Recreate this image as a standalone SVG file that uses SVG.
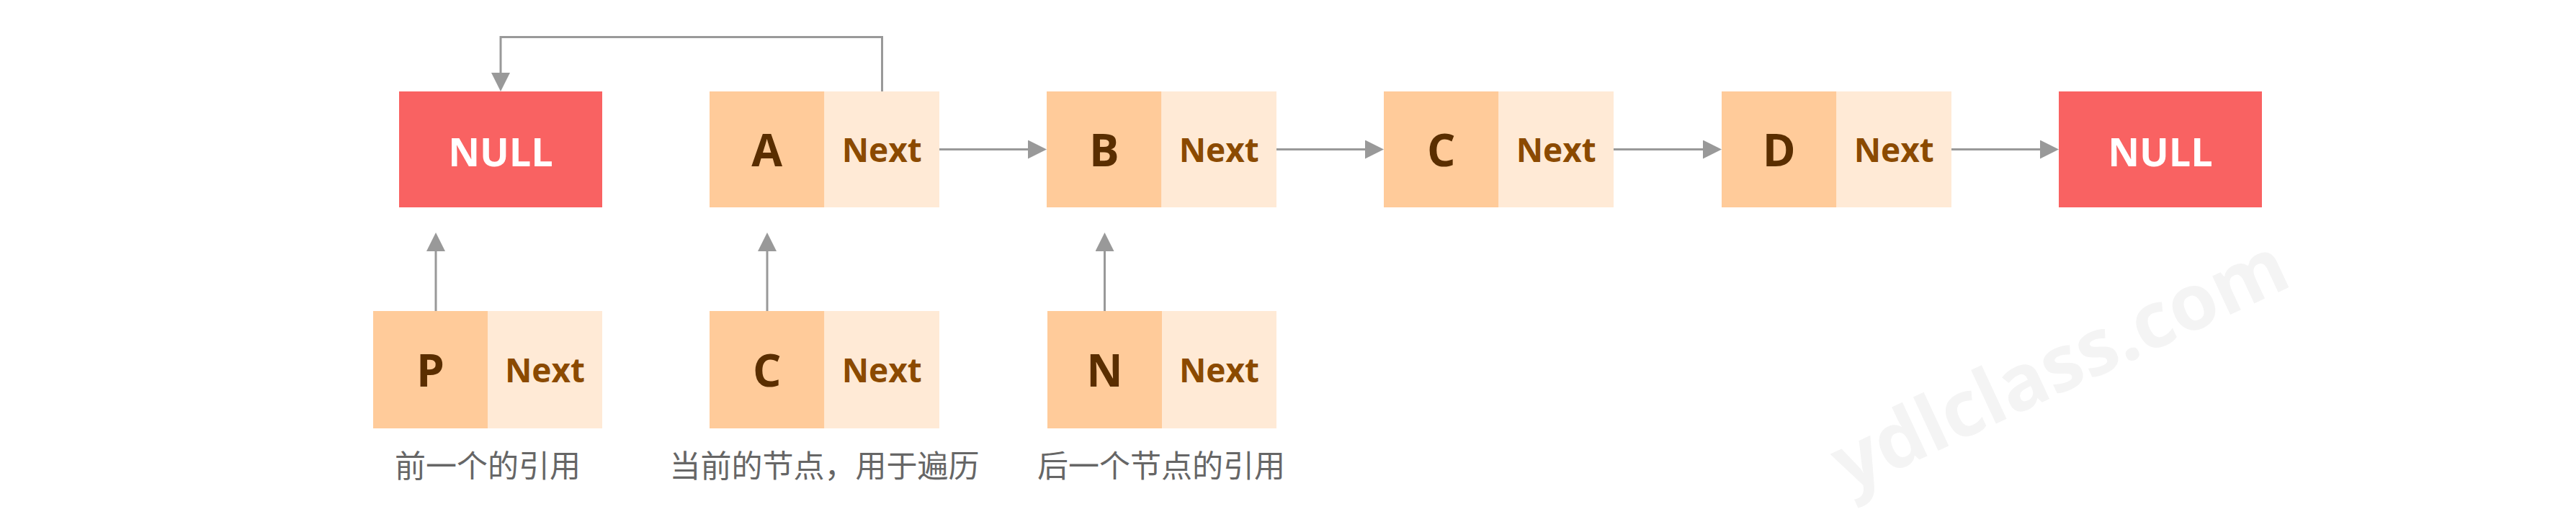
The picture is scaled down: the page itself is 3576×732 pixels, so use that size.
<svg xmlns="http://www.w3.org/2000/svg" width="3576" height="732" viewBox="0 0 3576 732">
<style>
.data{fill:#FFCB9A}
.next{fill:#FFEAD6}
.null{fill:#F96262}
.lt{font-family:"Open Sans","Noto Sans",sans-serif;font-weight:700;font-size:62px;fill:#5A2E00;text-anchor:middle}
.nt{font-family:"Open Sans","Noto Sans",sans-serif;font-weight:700;font-size:46px;fill:#8B4A00;text-anchor:middle}
.nullt{font-family:"Open Sans","Noto Sans",sans-serif;font-weight:700;font-size:54px;fill:#FFFFFF;text-anchor:middle}
.lbl{font-family:"Noto Sans CJK SC","Noto Sans",sans-serif;font-size:43px;fill:#666666;text-anchor:middle}
.conn{stroke:#999999;stroke-width:3;fill:none}
.wm{font-family:"Open Sans","Noto Sans",sans-serif;font-weight:700;font-size:108px;fill:#F4F4F4;text-anchor:middle}
</style>
<defs>
<marker id="arrow" markerUnits="userSpaceOnUse" markerWidth="26" markerHeight="26" refX="6" refY="13" orient="auto" viewBox="0 0 26 26">
<path d="M0,0 L26,13 L0,26 Z" fill="#999999"/>
</marker>
</defs>
<rect width="3576" height="732" fill="#FFFFFF"/>
<text class="wm" x="2875" y="540" transform="rotate(-25 2875 540)">ydlclass.com</text>

<g id="null-left">
<rect class="null" x="554" y="127" width="282" height="161"/>
<text class="nullt" x="695" y="231">NULL</text>
</g>
<g id="node-a">
<rect class="data" x="985" y="127" width="159.5" height="161"/>
<rect class="next" x="1144.5" y="127" width="159.5" height="161"/>
<text class="lt" x="1064.75" y="231">A</text>
<text class="nt" x="1224.25" y="225">Next</text>
</g>
<g id="node-b">
<rect class="data" x="1453" y="127" width="159.5" height="161"/>
<rect class="next" x="1612.5" y="127" width="159.5" height="161"/>
<text class="lt" x="1532.75" y="231">B</text>
<text class="nt" x="1692.25" y="225">Next</text>
</g>
<g id="node-c">
<rect class="data" x="1921" y="127" width="159.5" height="161"/>
<rect class="next" x="2080.5" y="127" width="159.5" height="161"/>
<text class="lt" x="2000.75" y="231">C</text>
<text class="nt" x="2160.25" y="225">Next</text>
</g>
<g id="node-d">
<rect class="data" x="2390" y="127" width="159.5" height="161"/>
<rect class="next" x="2549.5" y="127" width="159.5" height="161"/>
<text class="lt" x="2469.75" y="231">D</text>
<text class="nt" x="2629.25" y="225">Next</text>
</g>
<g id="null-right">
<rect class="null" x="2858" y="127" width="282" height="161"/>
<text class="nullt" x="2999" y="231">NULL</text>
</g>

<g id="node-p">
<rect class="data" x="518" y="432" width="159" height="163"/>
<rect class="next" x="677" y="432" width="159" height="163"/>
<text class="lt" x="597.5" y="537">P</text>
<text class="nt" x="756.5" y="531">Next</text>
<text class="lbl" x="677" y="663">前一个的引用</text>
</g>
<g id="node-cur">
<rect class="data" x="985" y="432" width="159.5" height="163"/>
<rect class="next" x="1144.5" y="432" width="159.5" height="163"/>
<text class="lt" x="1064.75" y="537">C</text>
<text class="nt" x="1224.25" y="531">Next</text>
<text class="lbl" x="1144.5" y="663">当前的节点，用于遍历</text>
</g>
<g id="node-n">
<rect class="data" x="1454" y="432" width="159" height="163"/>
<rect class="next" x="1613" y="432" width="159" height="163"/>
<text class="lt" x="1533.5" y="537">N</text>
<text class="nt" x="1692.5" y="531">Next</text>
<text class="lbl" x="1612" y="663">后一个节点的引用</text>
</g>

<g id="connectors">
<path class="conn" marker-end="url(#arrow)" d="M1224.5,127 V51.5 H695 V107"/>
<path class="conn" marker-end="url(#arrow)" d="M1304,207.5 H1433"/>
<path class="conn" marker-end="url(#arrow)" d="M1772,207.5 H1901"/>
<path class="conn" marker-end="url(#arrow)" d="M2240,207.5 H2370"/>
<path class="conn" marker-end="url(#arrow)" d="M2709,207.5 H2838"/>
<path class="conn" marker-end="url(#arrow)" d="M605,432 V343"/>
<path class="conn" marker-end="url(#arrow)" d="M1065,432 V343"/>
<path class="conn" marker-end="url(#arrow)" d="M1533.5,432 V343"/>
</g>
</svg>
